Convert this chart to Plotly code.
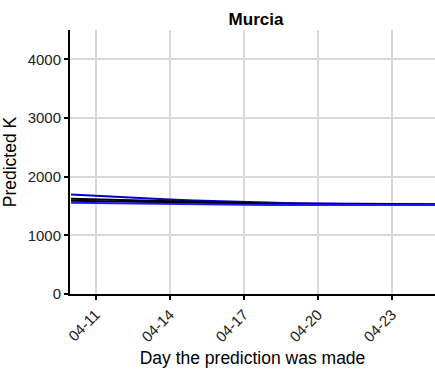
import plotly.graph_objects as go

dates = ["2020-04-10", "2020-04-11", "2020-04-12", "2020-04-13", "2020-04-14",
         "2020-04-15", "2020-04-16", "2020-04-17", "2020-04-18", "2020-04-19",
         "2020-04-20", "2020-04-21", "2020-04-22", "2020-04-23", "2020-04-24",
         "2020-04-25", "2020-04-26"]

blue_upper = [1695, 1672, 1650, 1630, 1612, 1595, 1580, 1565, 1555, 1547, 1541, 1537, 1534, 1532, 1530, 1529, 1528]
black_upper = [1622, 1610, 1598, 1587, 1577, 1567, 1558, 1550, 1544, 1539, 1535, 1532, 1530, 1528, 1527, 1526, 1525]
black_lower = [1588, 1580, 1572, 1565, 1558, 1552, 1546, 1540, 1535, 1531, 1528, 1525, 1523, 1522, 1521, 1520, 1520]
blue_lower = [1554, 1548, 1542, 1537, 1532, 1528, 1524, 1520, 1517, 1515, 1514, 1513, 1513, 1513, 1514, 1514, 1515]

series = [
    ("blue upper", blue_upper, "#0000cc"),
    ("black upper", black_upper, "#000000"),
    ("black lower", black_lower, "#000000"),
    ("blue lower", blue_lower, "#1a1aff"),
]

fig = go.Figure()
for name, vals, col in series:
    fig.add_trace(go.Scatter(x=dates, y=vals, mode="lines", name=name,
                             line=dict(color=col, width=2), showlegend=False))

font = "Liberation Sans, Arial, sans-serif"
fig.update_layout(
    width=435, height=369,
    margin=dict(l=70, r=0, t=30, b=75),
    plot_bgcolor="white", paper_bgcolor="white",
    font=dict(family=font, size=15, color="black"),
    title=dict(text="<b>Murcia</b>", x=256 / 435, xanchor="center",
               y=1 - 19 / 369, yanchor="middle", font=dict(size=17, color="black")),
    xaxis=dict(
        type="date",
        range=["2020-04-09 23:00", "2020-04-24 18:00"],
        tickvals=["2020-04-11", "2020-04-14", "2020-04-17", "2020-04-20", "2020-04-23"],
        ticktext=["04-11", "04-14", "04-17", "04-20", "04-23"],
        tickangle=-45,
        showgrid=True, gridcolor="#d9d9d9", gridwidth=1.5,
        showline=True, linecolor="black", linewidth=2,
        ticks="outside", ticklen=4, tickcolor="black", tickwidth=1.5,
        tickfont=dict(size=15, color="#222"),
        title=dict(text="Day the prediction was made", font=dict(size=17.5), standoff=8),
        zeroline=False,
    ),
    yaxis=dict(
        range=[0, 4500],
        tickvals=[0, 1000, 2000, 3000, 4000],
        showgrid=True, gridcolor="#d9d9d9", gridwidth=1.5,
        showline=True, linecolor="black", linewidth=2,
        ticks="outside", ticklen=4, tickcolor="black", tickwidth=1.5,
        tickfont=dict(size=15, color="#222"),
        title=dict(text="Predicted K", font=dict(size=17.5), standoff=8),
        zeroline=False,
    ),
)

fig.write_html("out.html", config={"displayModeBar": False},
               post_script="document.body.style.margin='0px';")
